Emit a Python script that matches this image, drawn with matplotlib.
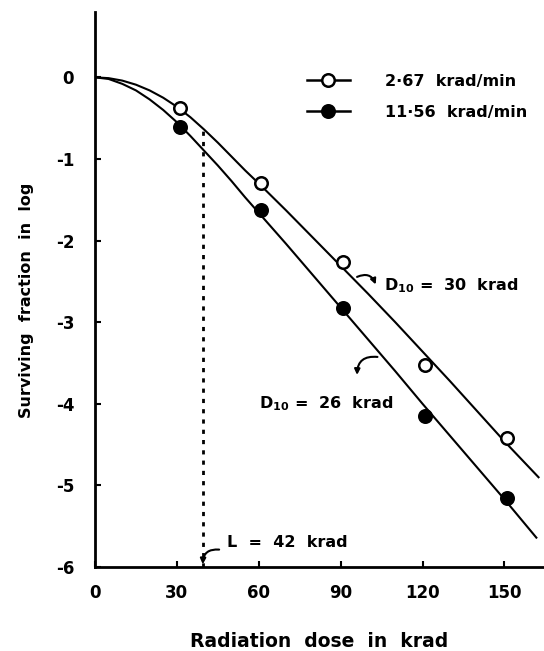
import numpy as np
import matplotlib
matplotlib.use("Agg")
import matplotlib.pyplot as plt

plt.rcParams['font.family'] = ['DejaVu Sans']
plt.rcParams['font.weight'] = 'bold'
plt.rcParams['mathtext.default'] = 'bf'

# measured points (dose in krad, log surviving fraction)
dose = [31, 61, 91, 121, 151]
low_rate = [-0.38, -1.29, -2.26, -3.52, -4.42]     # 2.67 krad/min, open
high_rate = [-0.61, -1.63, -2.83, -4.15, -5.16]    # 11.56 krad/min, filled

# fitted curves
curve_dose = [0, 5, 10, 15, 20, 25, 30, 35, 40, 45, 50, 55, 60, 70, 80, 90,
              100, 110, 120, 130, 140, 150]
curve_a = [0, -0.01, -0.04, -0.09, -0.16, -0.25, -0.36, -0.49, -0.64, -0.80,
           -0.97, -1.14, -1.30, -1.63, -1.97, -2.31, -2.65, -3.00, -3.36,
           -3.72, -4.09, -4.46]
curve_b = [0, -0.02, -0.08, -0.16, -0.27, -0.40, -0.55, -0.72, -0.90, -1.08,
           -1.27, -1.47, -1.66, -2.04, -2.43, -2.82, -3.21, -3.60, -4.00,
           -4.39, -4.78, -5.17]
end_a = (162.5, -4.90)
end_b = (161.7, -5.64)

l_dose = 39.5
xticks = [0, 30, 60, 90, 120, 150]
yticks = [0, -1, -2, -3, -4, -5, -6]

fig = plt.figure(figsize=(5.44, 6.51), dpi=100)
ax = fig.add_axes([0.1746, 0.129, 0.8254, 0.8525])

ax.plot(curve_dose + [end_a[0]], curve_a + [end_a[1]], color='black', lw=1.5)
ax.plot(curve_dose + [end_b[0]], curve_b + [end_b[1]], color='black', lw=1.5)
ax.plot(dose, low_rate, 'o', ms=9, mfc='white', mec='black', mew=1.8,
        label='2·67  krad/min')
ax.plot(dose, high_rate, 'o', ms=9, mfc='black', mec='black', mew=1.8,
        label='11·56  krad/min')

# L line up to the upper curve
ax.vlines(l_dose, -6, np.interp(l_dose, curve_dose, curve_a), colors='black',
          linestyles=(0, (1.5, 2.2)), lw=2)

ax.set_xlim(0, 164.5)
ax.set_ylim(-6, 0.8)
ax.set_xticks(xticks)
ax.set_xticklabels([str(t) for t in xticks], fontsize=12, fontweight='bold')
ax.set_yticks(yticks)
ax.set_yticklabels([str(t) for t in yticks], fontsize=12, fontweight='bold')
ax.tick_params(direction='in', length=4, width=1.5)
ax.tick_params(axis='y', pad=15)
ax.tick_params(axis='x', pad=12)
for s in ['top', 'right']:
    ax.spines[s].set_visible(False)
for s in ['left', 'bottom']:
    ax.spines[s].set_linewidth(2)

ax.set_xlabel('Radiation  dose  in  krad', fontsize=13.5, fontweight='bold', labelpad=22)
ax.set_ylabel('Surviving  fraction  in  log', fontsize=11.5, fontweight='bold')
ax.yaxis.set_label_coords(-0.135, 0.48)

leg = ax.legend(loc='upper left', bbox_to_anchor=(0.44, 0.915), frameon=False,
                fontsize=11.5, handlelength=2.7, handletextpad=2.2, labelspacing=1.0,
                numpoints=1)
for h in leg.legend_handles:
    h.set_linestyle('-')
    h.set_linewidth(1.8)
    h.set_color('black')

ax.annotate('', xy=(103.2, -2.57), xytext=(95.1, -2.46),
            arrowprops=dict(arrowstyle='-|>', color='black', lw=1.5,
                            connectionstyle='arc3,rad=-0.6', mutation_scale=8))
ax.text(106, -2.55, r'D$_{10}$ =  30  krad', fontsize=11.5, va='center')

ax.annotate('', xy=(96, -3.68), xytext=(104.5, -3.43),
            arrowprops=dict(arrowstyle='-|>', color='black', lw=1.5,
                            connectionstyle='arc3,rad=0.6', mutation_scale=8))
ax.text(60, -4.0, r'D$_{10}$ =  26  krad', fontsize=11.5, va='center')

ax.annotate('', xy=(l_dose, -6), xytext=(46.5, -5.79),
            arrowprops=dict(arrowstyle='-|>', color='black', lw=1.5,
                            connectionstyle='arc3,rad=0.6', mutation_scale=8))
ax.text(48.5, -5.7, 'L  =  42  krad', fontsize=11.5, va='center')

fig.savefig('out.png', dpi=100)
